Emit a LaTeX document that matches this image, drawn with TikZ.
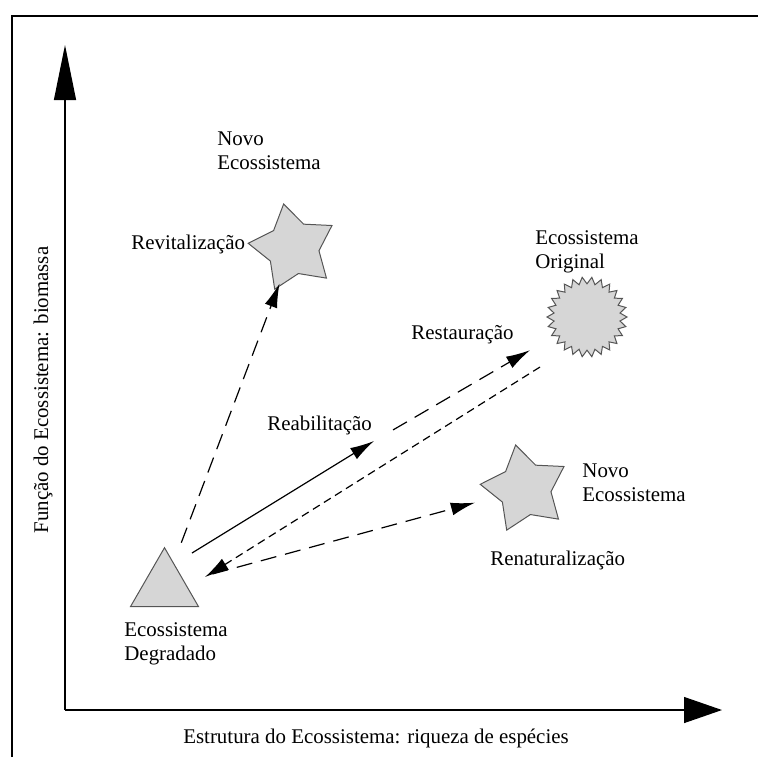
\documentclass[tikz,border=0pt]{standalone}
\usepackage{fontspec}
\setmainfont{Liberation Serif}
\usetikzlibrary{arrows.meta,shapes.geometric,positioning}

\definecolor{ecofill}{RGB}{214,214,214}
\definecolor{ecoline}{RGB}{85,85,85}

\begin{document}
\begin{tikzpicture}[x=0.5pt,y=-0.5pt,node font=\fontsize{10.45}{12}\selectfont,
	lbl/.style={inner sep=0pt,align=left,anchor=base west},
	axis/.style={line width=0.6pt},
	link/.style={line width=0.6pt,-{Latex[length=12pt,width=6.5pt]}},
	longdash/.style={dash pattern=on 8pt off 4.5pt},
	shortdash/.style={dash pattern=on 4pt off 2.5pt}]
	\tikzstyle{eco}=[draw=ecoline,fill=ecofill,line width=0.5pt,inner sep=0pt]
	\tikzstyle{newstar}=[eco,star,star points=5,star point ratio=0.58,minimum size=26.1pt,shape border rotate=-24]
	
	\useasboundingbox (0,0) rectangle (758,757);
	\draw[line width=1pt] (12,757) -- (12,16) -- (758,16);
	
	% axes
	\coordinate (O) at (65,710);
	\coordinate (ytip) at (65,45);
	\coordinate (xtip) at (722,710);
	\draw[axis,-{Triangle[length=27.5pt,width=11pt]}] (O) -- (ytip);
	\draw[axis,-{Triangle[length=19pt,width=13pt]}] (O) -- (xtip);
	\node[inner sep=0pt,anchor=base] (xlbl) at (376,743) {Estrutura do Ecossistema: riqueza de espécies};
	\node[inner sep=0pt,rotate=90] (ylbl) at (43,390) {Função do Ecossistema: biomassa};
	
	% ecosystems
	\node[eco,regular polygon,regular polygon sides=3,minimum size=39.3pt] (degr) at (164.5,587) {};
	\node[newstar] (revit) at (293,248) {};
	\node[newstar] (renat) at (525,489) {};
	\node[eco,star,star points=26,star point ratio=0.83,minimum size=33.2pt] (orig) at (587,317) {};
	
	\node[lbl] (degrlbl) at (124,660) {Ecossistema\\Degradado};
	\node[lbl,anchor=south,above=4.7pt of orig] (origlbl) {Ecossistema\\Original};
	\node[lbl] (newtop) at (217,169) {Novo\\Ecossistema};
	\node[lbl] (newbot) at (582,501) {Novo\\Ecossistema};
	\node[lbl] (revitlbl) at (131,249) {Revitalização};
	\node[lbl] (reablbl) at (267,430) {Reabilitação};
	\node[lbl] (restlbl) at (411,339) {Restauração};
	\node[lbl] (renatlbl) at (490,565) {Renaturalização};
	
	% trajectories
	\coordinate (reabtail) at (192,553);
	\coordinate (reabtip) at (374,441);
	\coordinate (backtail) at (540,367);
	\coordinate (backtip) at (205,577);
	
	\draw[link,longdash,shorten <=10.7pt,shorten >=19pt] (degr) -- (revit.center);
	\draw[link] (reabtail) -- (reabtip);
	\draw[link,longdash,shorten <=11pt,shorten >=33pt] (reabtip) -- (orig.center);
	\draw[link,shortdash] (backtail) -- (backtip);
	\draw[link,longdash,shorten <=14.5pt,shorten >=26pt] (degr) -- (renat.center);
\end{tikzpicture}
\end{document}
